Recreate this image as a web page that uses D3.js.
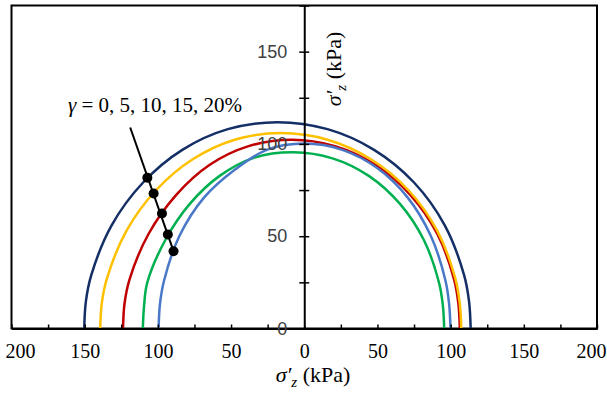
<!DOCTYPE html>
<html lang="en">
<head>
<meta charset="UTF-8"/>
<title>Stress paths</title>
<script src="https://d3js.org/d3.v7.min.js"></script>
<style>
    body { margin: 0; background: #fff; }
</style>
</head>
<body>
<div id="chart"></div>
<script>
    // gamma values shown in the annotation
    var gammas = [0, 5, 10, 15, 20];
    var colors = ["#142f66", "#ffc000", "#c00000", "#00b050", "#4a78c8"];

    // curves: [horizontal stress (signed), vertical stress]
    var navy = [[-150.3, 0], [-149.2, 14.6], [-145.5, 28.9], [-131.6, 55.9], [-110.1, 79.1], [-83.3, 96.8],
        [-52.2, 108.0], [-18.3, 111.8], [15.9, 108.0], [47.7, 96.8], [75.0, 79.1], [96.0, 55.9],
        [109.2, 28.9], [112.6, 14.6], [113.7, 0]];
    var yellow = [[-139.4, 0], [-138.3, 13.8], [-134.7, 27.4], [-121.4, 53.0], [-101.3, 74.9], [-76.2, 91.7],
        [-47.5, 102.3], [-16.0, 105.9], [15.9, 102.3], [45.6, 91.7], [71.2, 74.9], [90.8, 53.0],
        [103.1, 27.4], [106.2, 13.8], [107.3, 0]];
    var red = [[-123.8, 0], [-122.8, 13.4], [-119.4, 26.5], [-106.4, 51.2], [-87.6, 72.3], [-64.8, 88.6],
        [-38.0, 98.8], [-8.7, 102.3], [21.0, 98.8], [48.8, 88.6], [72.6, 72.3], [90.9, 51.2],
        [102.4, 26.5], [105.3, 13.4], [106.3, 0]];
    var green = [[-110.3, 0], [-109.4, 12.5], [-107.3, 24.7], [-95.0, 47.8], [-78.2, 67.5], [-57.8, 82.7],
        [-34.0, 92.6], [-7.3, 95.5], [19.3, 92.2], [44.1, 82.7], [65.4, 67.5], [81.8, 47.8],
        [92.1, 24.7], [94.7, 12.5], [95.6, 0]];
    var blue = [[-99.5, 0], [-98.6, 13.1], [-95.8, 25.9], [-85.3, 50.1], [-68.5, 70.9], [-47.5, 86.0],
        [-25.6, 96.8], [0.2, 100.2], [26.0, 96.8], [50.1, 86.8], [70.7, 70.9], [86.5, 50.1],
        [96.5, 25.9], [99.0, 13.1], [99.9, 0]];
    var curves = [navy, yellow, red, green, blue];
    var drawOrder = [0, 2, 1, 3, 4];

    // marker points where the leader line crosses each curve
    var markers = [[-107.2, 81.7], [-102.9, 73.1], [-97.2, 62.3], [-93.2, 50.9], [-89.3, 41.9]];
    var leaderStart = [-118.9, 108.9];

    var xTicks = d3.range(-200, 201, 25);
    var yTicks = d3.range(0, 176, 25);

    var width = 607;
    var height = 393;
    var serif = "'Liberation Serif', 'Times New Roman', Times, serif";

    var svg = d3.select("#chart")
        .append("svg")
        .attr("width", width)
        .attr("height", height);

    var xScale = d3.scaleLinear().domain([-200, 200]).range([11.5, 597]);
    var yScale = d3.scaleLinear().domain([0, 175]).range([328.5, 5.5]);

    // frame
    svg.append("rect")
        .attr("x", xScale(-200))
        .attr("y", yScale(175))
        .attr("width", xScale(200) - xScale(-200))
        .attr("height", yScale(0) - yScale(175))
        .attr("fill", "none")
        .attr("stroke", "#000")
        .attr("stroke-width", 2);

    // curves
    var line = d3.line()
        .x(function(d) { return xScale(d[0]); })
        .y(function(d) { return yScale(d[1]); })
        .curve(d3.curveCatmullRom.alpha(0.5));

    svg.selectAll("path.curve")
        .data(drawOrder)
        .enter()
        .append("path")
        .attr("class", "curve")
        .attr("d", function(i) { return line(curves[i]); })
        .attr("fill", "none")
        .attr("stroke", function(i) { return colors[i]; })
        .attr("stroke-width", 2.5);

    // x axis
    var xAxis = d3.axisBottom(xScale)
        .tickValues(xTicks)
        .tickSizeInner(-4)
        .tickSizeOuter(0)
        .tickPadding(15)
        .tickFormat(function(d) { return d % 50 === 0 ? Math.abs(d) : ""; });

    var gx = svg.append("g")
        .attr("transform", "translate(0," + yScale(0) + ")")
        .call(xAxis);
    gx.select(".domain").attr("stroke-width", 2);
    gx.selectAll(".tick line").attr("stroke-width", 1.5);
    gx.selectAll(".tick text")
        .attr("font-family", serif)
        .attr("font-size", "20px")
        .attr("fill", "#000")
        .attr("dx", function(d) { return d === -200 ? 8.5 : (d === 200 ? -6 : 0); });

    // y axis through zero
    var yAxis = d3.axisLeft(yScale)
        .tickValues(yTicks)
        .tickSizeInner(5)
        .tickSizeOuter(0)
        .tickPadding(12)
        .tickFormat(function(d) { return d % 50 === 0 && d < 175 ? d : ""; });

    var gy = svg.append("g")
        .attr("transform", "translate(" + xScale(0) + ",0)")
        .call(yAxis);
    gy.select(".domain").attr("stroke-width", 2);
    gy.selectAll(".tick line").attr("x1", 5).attr("stroke-width", 1.5);
    gy.selectAll(".tick text")
        .attr("font-family", "'Liberation Sans', Arial, sans-serif")
        .attr("font-size", "18px")
        .attr("fill", "#404040");

    // leader line and markers
    svg.append("line")
        .attr("x1", xScale(leaderStart[0]))
        .attr("y1", yScale(leaderStart[1]))
        .attr("x2", xScale(markers[markers.length - 1][0]))
        .attr("y2", yScale(markers[markers.length - 1][1]))
        .attr("stroke", "#000")
        .attr("stroke-width", 2);

    svg.selectAll("circle.marker")
        .data(markers)
        .enter()
        .append("circle")
        .attr("class", "marker")
        .attr("cx", function(d) { return xScale(d[0]); })
        .attr("cy", function(d) { return yScale(d[1]); })
        .attr("r", 5)
        .attr("fill", "#000");

    // annotation
    var note = svg.append("text")
        .attr("x", 68)
        .attr("y", 112)
        .attr("font-family", serif)
        .attr("font-size", "21px");
    note.append("tspan").attr("font-style", "italic").text("\u03b3");
    note.append("tspan").text(" = " + gammas.join(", ") + "%");

    // axis titles: sigma prime with subscript z
    function sigmaTitle(sel) {
        sel.attr("font-family", serif)
            .attr("font-size", "22px");
        sel.append("tspan").attr("font-style", "italic").text("\u03c3\u2032");
        sel.append("tspan").attr("font-style", "italic").attr("font-size", "15px")
            .attr("dy", 5).text("z");
        sel.append("tspan").attr("dy", -5).text(" (kPa)");
    }

    svg.append("text")
        .attr("text-anchor", "middle")
        .attr("x", 313)
        .attr("y", 382)
        .call(sigmaTitle);

    svg.append("text")
        .attr("text-anchor", "middle")
        .attr("transform", "translate(341,69)rotate(-90)")
        .call(sigmaTitle);
</script>
</body>
</html>
